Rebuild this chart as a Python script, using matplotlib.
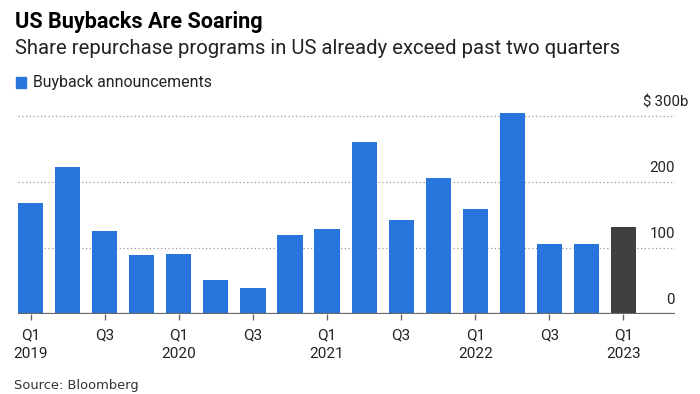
import numpy as np
import matplotlib.pyplot as plt
from matplotlib.transforms import blended_transform_factory
from matplotlib.patches import Rectangle

quarters = ["Q1 2019", "Q2 2019", "Q3 2019", "Q4 2019",
            "Q1 2020", "Q2 2020", "Q3 2020", "Q4 2020",
            "Q1 2021", "Q2 2021", "Q3 2021", "Q4 2021",
            "Q1 2022", "Q2 2022", "Q3 2022", "Q4 2022",
            "Q1 2023"]
buybacks = [168, 223, 126, 89, 91, 52, 40, 119, 129, 260, 143, 206, 159, 305, 106, 106, 132]
tick_labels = ["Q1\n2019", "Q3", "Q1\n2020", "Q3", "Q1\n2021", "Q3", "Q1\n2022", "Q3", "Q1\n2023"]
y_ticks = [0, 100, 200, 300]

BLUE = "#2775DD"
DARK = "#404040"
TEXT = "#222222"

plt.rcParams['font.family'] = ['Roboto', 'DejaVu Sans']

fig = plt.figure(figsize=(7, 3.94), dpi=100)
ax = fig.add_axes([18/700, 1 - 314/394, (675-18)/700, (314-109.4)/394])

x = np.arange(len(buybacks))
colors = [BLUE] * (len(buybacks) - 1) + [DARK]
ax.bar(x, buybacks, width=0.68, color=colors, zorder=3)

ax.set_xlim(-0.34, 17.39)
ax.set_ylim(0, 310)

for v in y_ticks[1:]:
    ax.axhline(v, color="#9a9a9a", lw=0.9, ls=(0, (1, 2)), zorder=1)
ax.axhline(0, color="#666666", lw=1.6, zorder=4)

trans = blended_transform_factory(ax.transAxes, ax.transData)
for v in y_ticks:
    if v == 300:
        ax.annotate("$\u2009300b", xy=(1, v), xycoords=trans, xytext=(9.5, 5),
                    textcoords="offset points", ha="right", va="bottom",
                    fontsize=10.8, color=TEXT)
    else:
        ax.annotate(str(v), xy=(1, v), xycoords=trans, xytext=(0, 5),
                    textcoords="offset points", ha="right", va="bottom",
                    fontsize=10.8, color=TEXT)

ax.set_xticks(x[::2])
ax.set_xticklabels(tick_labels, fontsize=11, color=TEXT, linespacing=1.4)
ax.tick_params(axis="x", length=4.5, width=1, color="#666666", pad=6)
ax.set_yticks([])
for s in ax.spines.values():
    s.set_visible(False)

fig.text(15/700, 1 - 22/394, "US Buybacks Are Soaring", fontsize=15.6, fontweight="bold",
         color="black", va="center", ha="left")
fig.text(15/700, 1 - 48/394, "Share repurchase programs in US already exceed past two quarters",
         fontsize=14.6, color=TEXT, va="center", ha="left")

fig.patches.append(Rectangle((16/700, 1 - 88/394), 10/700, 11/394, transform=fig.transFigure,
                             color=BLUE))
fig.text(33/700, 1 - 83/394, "Buyback announcements", fontsize=11.45, color=TEXT,
         va="center", ha="left")

fig.text(14/700, 1 - 386/394, "Source: Bloomberg", fontsize=9.4, family="DejaVu Sans",
         color="#333333", va="center", ha="left")

fig.savefig("out.png", dpi=100)
